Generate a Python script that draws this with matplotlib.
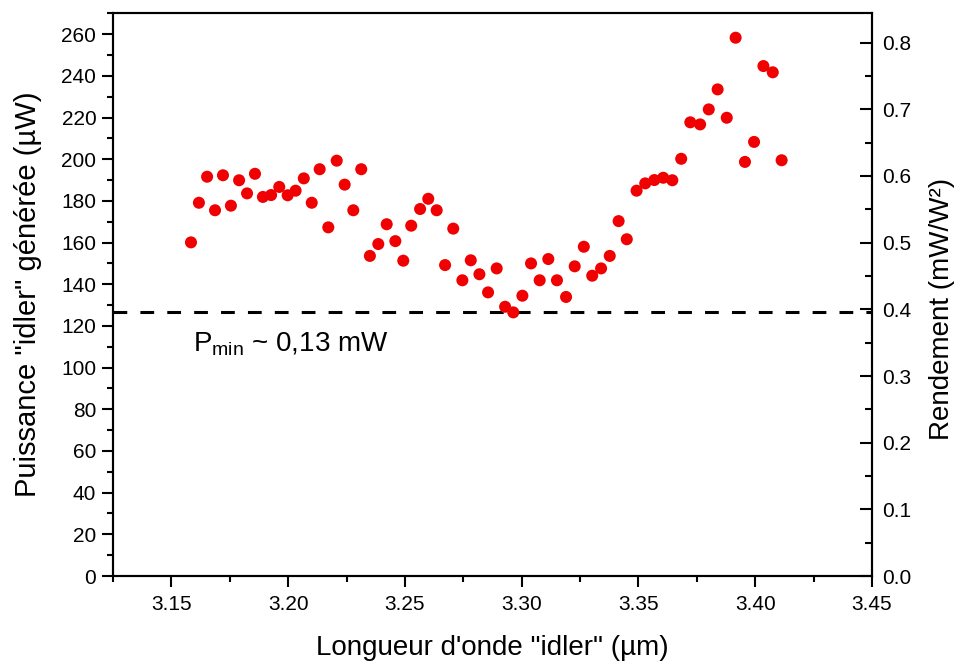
import numpy as np
import matplotlib.pyplot as plt
from matplotlib.ticker import MultipleLocator, FormatStrFormatter

plt.rcParams['font.family'] = ['Liberation Sans', 'DejaVu Sans']
plt.rcParams['mathtext.fontset'] = 'custom'
plt.rcParams['mathtext.rm'] = 'Liberation Sans'
plt.rcParams['mathtext.it'] = 'Liberation Sans:italic'

# idler wavelength (um) and generated idler power (uW)
wavelength = [3.1584, 3.1618, 3.1653, 3.1687, 3.1721, 3.1755, 3.1790, 3.1824, 3.1858, 3.1892,
              3.1927, 3.1962, 3.1998, 3.2032, 3.2067, 3.2101, 3.2135, 3.2172, 3.2208, 3.2242,
              3.2279, 3.2313, 3.2350, 3.2386, 3.2422, 3.2459, 3.2493, 3.2527, 3.2565, 3.2600,
              3.2636, 3.2672, 3.2707, 3.2746, 3.2782, 3.2819, 3.2856, 3.2893, 3.2929, 3.2964,
              3.3003, 3.3040, 3.3077, 3.3114, 3.3151, 3.3190, 3.3227, 3.3266, 3.3302, 3.3340,
              3.3377, 3.3415, 3.3450, 3.3492, 3.3529, 3.3568, 3.3606, 3.3645, 3.3683, 3.3722,
              3.3764, 3.3801, 3.3839, 3.3878, 3.3916, 3.3956, 3.3995, 3.4035, 3.4075, 3.4113]
power = [160.1, 179.1, 191.6, 175.5, 192.3, 177.7, 189.9, 183.6, 193.0, 181.9,
         182.8, 186.7, 182.7, 184.9, 190.8, 179.1, 195.2, 167.3, 199.3, 187.8,
         175.5, 195.2, 153.6, 159.3, 168.8, 160.7, 151.3, 168.1, 176.1, 181.0,
         175.5, 149.2, 166.7, 141.9, 151.5, 144.8, 136.1, 147.6, 129.2, 126.5,
         134.5, 150.0, 141.9, 152.1, 141.9, 133.9, 148.6, 158.0, 144.1, 147.6,
         153.6, 170.3, 161.6, 184.9, 188.4, 190.0, 191.1, 189.9, 200.2, 217.7,
         216.7, 223.9, 233.5, 219.9, 258.3, 198.7, 208.3, 244.7, 241.7, 199.5]
p_min = 126.5

fig = plt.figure(figsize=(9.55, 6.63), dpi=100)
ax = fig.add_axes([0.1183, 0.1312, 0.7948, 0.8487])

ax.scatter(wavelength, power, s=75, color='#f00000', edgecolors='none', zorder=3)
ax.axhline(p_min, color='black', lw=2.2, linestyle=(0, (4.5, 4.3)), zorder=2)
ax.text(3.1593, 107.5, r'P$_{\mathrm{min}}$ ~ 0,13 mW', fontsize=20, ha='left', va='baseline')

ax.set_xlim(3.125, 3.45)
ax.set_ylim(0, 270)
ax.xaxis.set_major_locator(MultipleLocator(0.05))
ax.xaxis.set_minor_locator(MultipleLocator(0.025))
ax.xaxis.set_major_formatter(FormatStrFormatter('%.2f'))
ax.yaxis.set_major_locator(MultipleLocator(20))
ax.yaxis.set_minor_locator(MultipleLocator(10))
ax.tick_params(which='both', direction='out', width=1.5, labelsize=15, top=False, right=False)
ax.tick_params(which='major', length=8)
ax.tick_params(which='minor', length=4.3)
ax.tick_params(axis='x', pad=6)
ax.tick_params(axis='y', pad=4)
ax.set_xlabel('Longueur d\'onde "idler" (µm)', fontsize=20, labelpad=15)
ax.set_ylabel('Puissance "idler" générée (µW)', fontsize=21, labelpad=14)

ax2 = ax.twinx()
ax2.set_ylim(0, 0.844)
ax2.yaxis.set_major_locator(MultipleLocator(0.1))
ax2.yaxis.set_minor_locator(MultipleLocator(0.05))
ax2.yaxis.set_major_formatter(FormatStrFormatter('%.1f'))
ax2.tick_params(axis='y', which='both', direction='in', width=1.5, labelsize=15, pad=7)
ax2.tick_params(axis='y', which='major', length=9)
ax2.tick_params(axis='y', which='minor', length=5)
ax2.set_ylabel('Rendement (mW/W²)', fontsize=20, labelpad=13)
ax2.yaxis.label.set_y(0.474)

for a in (ax, ax2):
    for sp in a.spines.values():
        sp.set_linewidth(1.5)

fig.savefig('out.png', dpi=100)
